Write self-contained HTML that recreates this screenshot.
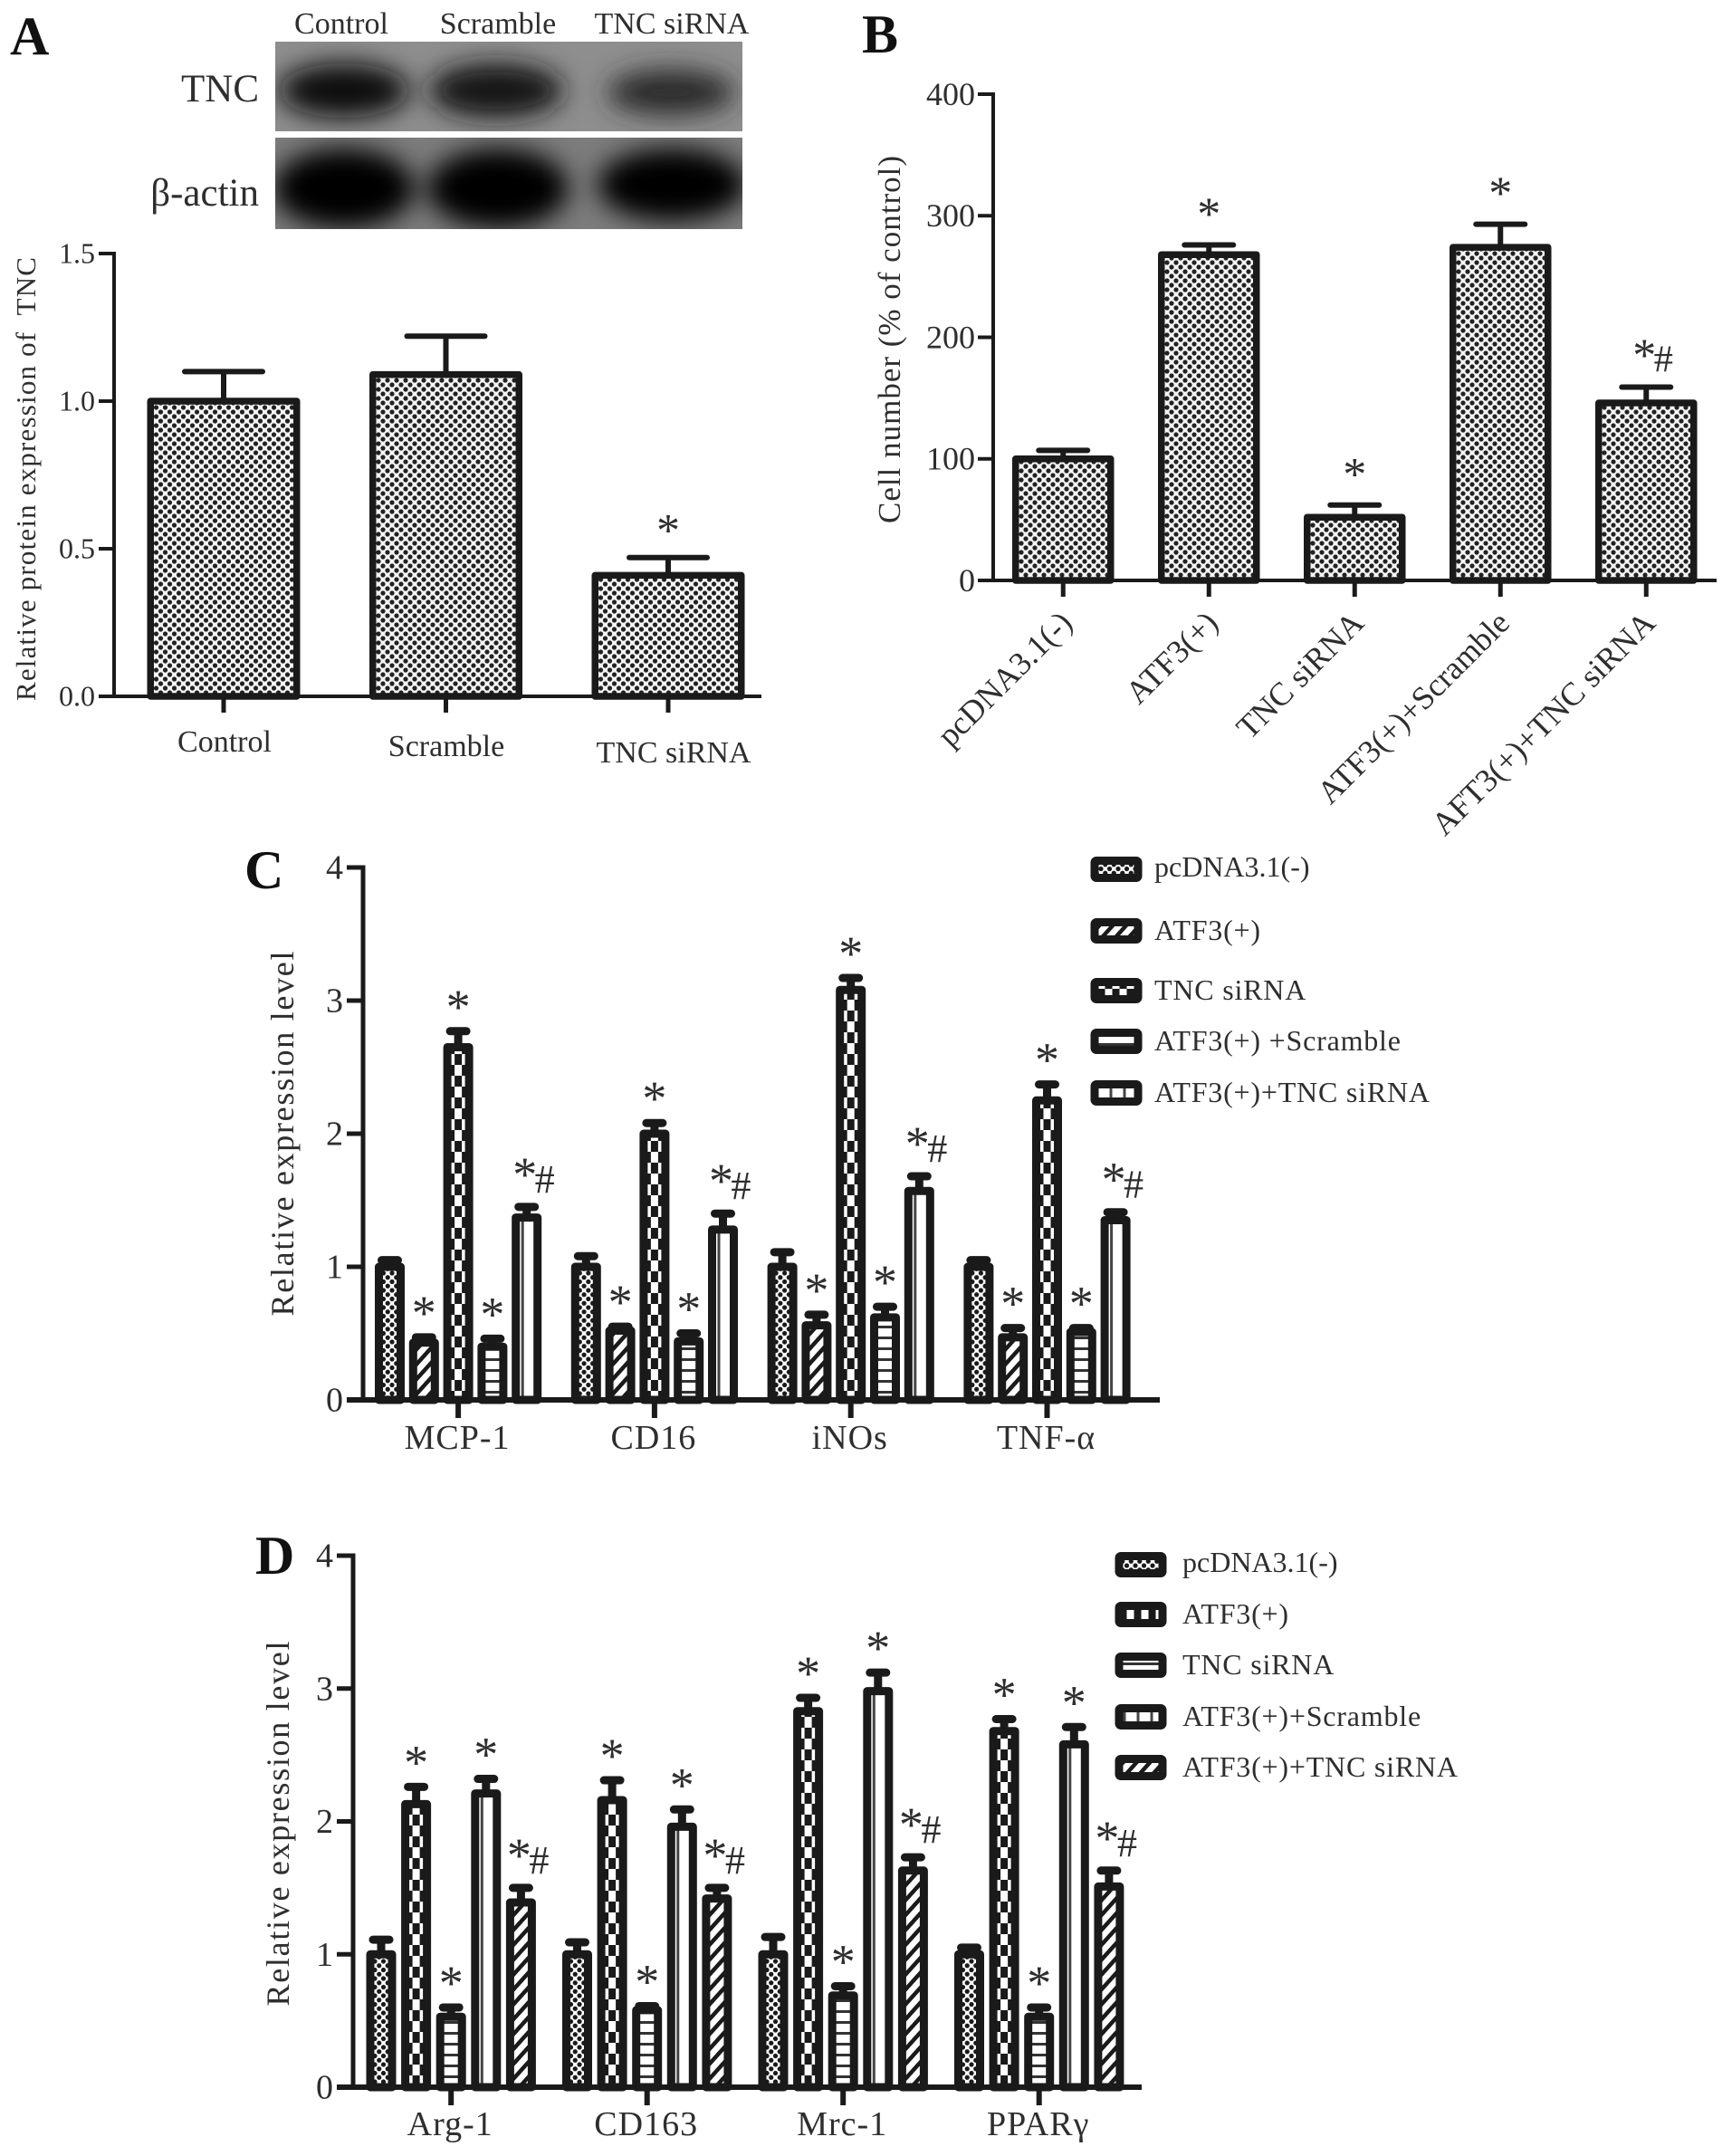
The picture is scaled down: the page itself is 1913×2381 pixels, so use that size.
<!DOCTYPE html>
<html lang="en">
<head>
<meta charset="utf-8">
<title>TNC expression and macrophage marker charts</title>
<style>
  html, body { margin: 0; padding: 0; background: #fff; }
  #figure { display: block; width: 1913px; height: 2381px; background: #fff; }
  text { font-family: "Liberation Serif", "DejaVu Serif", serif; fill: #2e2e2e; white-space: pre; }
  .letter { font-weight: bold; font-size: 60px; fill: #111; }
</style>
</head>
<body>
<svg id="figure" xmlns="http://www.w3.org/2000/svg" width="1913" height="2381" viewBox="0 0 1913 2381">
  <defs>
    <pattern id="pat-fine" patternUnits="userSpaceOnUse" width="10" height="10">
      <rect width="10" height="10" fill="#f4f4f4"/>
      <circle cx="0" cy="0" r="2.6" fill="#222"/><circle cx="10" cy="0" r="2.6" fill="#222"/>
      <circle cx="0" cy="10" r="2.6" fill="#222"/><circle cx="10" cy="10" r="2.6" fill="#222"/>
      <circle cx="5" cy="5" r="2.6" fill="#222"/>
    </pattern>
    <pattern id="pat-dots" patternUnits="userSpaceOnUse" width="9.5" height="9.5">
      <rect width="9.5" height="9.5" fill="#fff"/>
      <circle cx="0" cy="0" r="2.6" fill="#1a1a1a"/><circle cx="9.5" cy="0" r="2.6" fill="#1a1a1a"/>
      <circle cx="0" cy="9.5" r="2.6" fill="#1a1a1a"/><circle cx="9.5" cy="9.5" r="2.6" fill="#1a1a1a"/>
      <circle cx="4.75" cy="4.75" r="2.6" fill="#1a1a1a"/>
    </pattern>
    <pattern id="pat-hatch" patternUnits="userSpaceOnUse" width="11" height="11" patternTransform="rotate(-48)">
      <rect width="11" height="11" fill="#fff"/>
      <rect width="11" height="4.5" fill="#1a1a1a"/>
    </pattern>
    <pattern id="pat-checker" patternUnits="userSpaceOnUse" x="4.5" width="16" height="24">
      <rect width="16" height="24" fill="#fff"/>
      <rect x="0" y="0" width="8" height="12" fill="#1a1a1a"/>
      <rect x="8" y="12" width="8" height="12" fill="#1a1a1a"/>
    </pattern>
    <pattern id="pat-hstripe" patternUnits="userSpaceOnUse" width="12" height="12">
      <rect width="12" height="12" fill="#fff"/>
      <rect y="0" width="12" height="3" fill="#333"/>
    </pattern>
    <pattern id="pat-vstripe" patternUnits="userSpaceOnUse" x="4.5" width="15" height="12">
      <rect width="15" height="12" fill="#fff"/>
      <rect x="6" width="3" height="12" fill="#444"/>
    </pattern>
    <filter id="band-blur" x="-40%" y="-60%" width="180%" height="220%"><feGaussianBlur stdDeviation="14"/></filter>
    <clipPath id="blot-clip-1"><rect x="304" y="46" width="516" height="99"/></clipPath>
    <clipPath id="blot-clip-2"><rect x="304" y="152" width="516" height="101"/></clipPath>
  </defs>

  <g>
    <text class="letter" x="11" y="60">A</text>
    <text x="377" y="37" font-size="34" text-anchor="middle">Control</text>
    <text x="550" y="37" font-size="34" text-anchor="middle">Scramble</text>
    <text x="742" y="37" font-size="34" text-anchor="middle">TNC siRNA</text>
    <text x="286" y="112" font-size="43" text-anchor="end">TNC</text>
    <text x="286" y="227" font-size="43" text-anchor="end">β-actin</text>
    <g clip-path="url(#blot-clip-1)">
      <rect x="304" y="46" width="516" height="99" fill="#8e8e8e"/>
      <g filter="url(#band-blur)">
        <ellipse cx="380" cy="100" rx="72" ry="30" fill="#101010"/>
        <ellipse cx="548" cy="100" rx="74" ry="30" fill="#161616"/>
        <ellipse cx="741" cy="102" rx="70" ry="25" fill="#2a2a2a"/>
      </g>
    </g>
    <g clip-path="url(#blot-clip-2)">
      <rect x="304" y="152" width="516" height="101" fill="#7c7c7c"/>
      <g filter="url(#band-blur)">
        <ellipse cx="380" cy="208" rx="78" ry="44" fill="#000"/>
        <ellipse cx="550" cy="208" rx="78" ry="44" fill="#000"/>
        <ellipse cx="742" cy="204" rx="82" ry="40" fill="#000"/>
      </g>
    </g>
    <g id="chart-a"></g>
  </g>
  <g>
    <text class="letter" x="952" y="58">B</text>
    <g id="chart-b"></g>
  </g>
  <g>
    <text class="letter" x="270" y="981">C</text>
    <g id="chart-c"></g>
  </g>
  <g>
    <text class="letter" x="282" y="1738">D</text>
    <g id="chart-d"></g>
  </g>
</svg>

<script>
// ---------- Panel A data ----------
const aCategories = ['Control', 'Scramble', 'TNC siRNA'];
const aValues = [1.0, 1.09, 0.41];
const aErrorTops = [1.10, 1.22, 0.47];
const aMarks = ['', '', '*'];
const aTicks = ['0.0', '0.5', '1.0', '1.5'];

// ---------- Panel B data ----------
const bCategories = ['pcDNA3.1(-)', 'ATF3(+)', 'TNC siRNA', 'ATF3(+)+Scramble', 'AFT3(+)+TNC siRNA'];
const bValues = [100, 268, 52, 274, 146];
const bErrorTops = [107, 276, 62, 293, 159];
const bMarks = ['', '*', '*', '*', '*#'];
const bTicks = ['0', '100', '200', '300', '400'];

// ---------- Panel C data ----------
const cCategories = ['MCP-1', 'CD16', 'iNOs', 'TNF-α'];
const cSeriesNames = ['pcDNA3.1(-)', 'ATF3(+)', 'TNC siRNA', 'ATF3(+) +Scramble', 'ATF3(+)+TNC siRNA'];
const cPcdna = [1.0, 1.0, 1.0, 1.0];
const cAtf3 = [0.43, 0.52, 0.56, 0.47];
const cTnc = [2.65, 2.0, 3.08, 2.25];
const cScramble = [0.40, 0.44, 0.62, 0.51];
const cCombo = [1.37, 1.28, 1.57, 1.35];
const cPcdnaErr = [1.05, 1.08, 1.11, 1.05];
const cAtf3Err = [0.47, 0.55, 0.64, 0.54];
const cTncErr = [2.77, 2.08, 3.17, 2.37];
const cScrambleErr = [0.46, 0.50, 0.70, 0.54];
const cComboErr = [1.45, 1.40, 1.68, 1.41];
const cSeriesMarks = ['', '*', '*', '*', '*#'];
const cTicks = ['0', '1', '2', '3', '4'];

// ---------- Panel D data ----------
const dCategories = ['Arg-1', 'CD163', 'Mrc-1', 'PPARγ'];
const dSeriesNames = ['pcDNA3.1(-)', 'ATF3(+)', 'TNC siRNA', 'ATF3(+)+Scramble', 'ATF3(+)+TNC siRNA'];
const dPcdna = [1.0, 1.0, 1.0, 1.0];
const dAtf3 = [2.13, 2.16, 2.83, 2.68];
const dTnc = [0.53, 0.58, 0.69, 0.53];
const dScramble = [2.21, 1.96, 2.98, 2.58];
const dCombo = [1.39, 1.42, 1.63, 1.51];
const dPcdnaErr = [1.11, 1.09, 1.13, 1.05];
const dAtf3Err = [2.26, 2.31, 2.93, 2.77];
const dTncErr = [0.60, 0.61, 0.76, 0.60];
const dScrambleErr = [2.32, 2.09, 3.12, 2.71];
const dComboErr = [1.50, 1.50, 1.73, 1.63];
const dSeriesMarks = ['', '*', '*', '*', '*#'];
const dTicks = ['0', '1', '2', '3', '4'];

// ---------- Helpers ----------
const SVG_NS = 'http://www.w3.org/2000/svg';
const INK = '#1a1a1a';

function make(tag, attrs, parent) {
  const node = document.createElementNS(SVG_NS, tag);
  for (const key in attrs) node.setAttribute(key, attrs[key]);
  parent.appendChild(node);
  return node;
}

function linearY(max, zeroY, topY) {
  return function (v) { return zeroY - (v / max) * (zeroY - topY); };
}

function drawYAxis(root, g) {
  const axis = make('line', { x1: g.axisX, x2: g.axisX, y1: g.topY - g.axisW / 2, y2: g.zeroY, stroke: INK, 'stroke-width': g.axisW }, root);
  
  
  g.ticks.forEach(function (label) {
    const y = g.y(parseFloat(label));
    const tick = make('line', { x1: g.axisX - g.tickLen, x2: g.axisX, y1: y, y2: y, stroke: INK, 'stroke-width': g.axisW }, root);
    
    
    const text = make('text', { x: g.axisX - g.tickLen - g.tickGap, y: y + g.tickFont * 0.33, 'font-size': g.tickFont, 'text-anchor': 'end' }, root);
    text.textContent = label;
    
    
  });
}

function drawBaseline(root, g) {
  const base = make('line', { x1: g.axisX - g.tickLen, x2: g.axisEnd, y1: g.zeroY, y2: g.zeroY, stroke: INK, 'stroke-width': g.baseW }, root);
  
  
}

function drawXTick(root, g, x) {
  const tick = make('line', { x1: x, x2: x, y1: g.zeroY, y2: g.zeroY + g.xTickLen, stroke: INK, 'stroke-width': g.axisW + 1 }, root);
  
  
}

function drawYTitle(root, label, x, yCenter, font, length) {
  const t = make('text', { transform: 'translate(' + x + ',' + yCenter + ') rotate(-90)', 'font-size': font, 'text-anchor': 'middle', textLength: length, lengthAdjust: 'spacing' }, root);
  t.textContent = label;
  
  
}

function drawBar(root, g, left, value, errTop, mark, fill) {
  const group = make('g', { transform: 'translate(' + left + ',0)' }, root);
  
  
  const sw = g.barStroke;
  const cx = g.barW / 2;
  const topY = g.y(value);
  const errY = g.y(errTop);
  const stem = make('line', { x1: cx, x2: cx, y1: topY, y2: errY, stroke: INK, 'stroke-width': g.errW }, group);
  
  
  const cap = make('line', { x1: cx - g.capW / 2, x2: cx + g.capW / 2, y1: errY, y2: errY, stroke: INK, 'stroke-width': g.errW, 'stroke-linecap': 'round' }, group);
  
  
  const bar = make('rect', { x: sw / 2, y: topY, width: g.barW - sw, height: g.zeroY - topY, fill: 'url(#' + fill + ')', stroke: INK, 'stroke-width': sw, 'stroke-linejoin': 'round' }, group);
  
  
  if (mark) {
    const both = mark.length > 1;
    const base = errY + (both ? g.markOffsetBoth : g.markOffset);
    const t = make('text', { x: both ? cx - 2 : cx, y: base, 'text-anchor': 'middle', 'font-size': g.markFont, fill: '#1c1c1c' }, group);
    
    
    const star = make('tspan', { y: both ? base - g.starLift : base }, t);
    star.textContent = '*';
    if (both) {
      const hash = make('tspan', { y: base - 3, 'font-size': g.markFont * 0.82, dx: -5 }, t);
      hash.textContent = '#';
    }
  }
}

function drawSimpleChart(root, g, cats, values, errs, marks) {
  drawYAxis(root, g);
  cats.forEach(function (cat, i) {
    const left = g.firstLeft + i * g.step;
    drawBar(root, g, left, values[i], errs[i], marks[i], 'pat-fine');
    drawXTick(root, g, left + g.barW / 2);
  });
  drawBaseline(root, g);
}

function drawGroupedChart(root, g, cats, series, errs, marks, fills) {
  drawYAxis(root, g);
  cats.forEach(function (cat, c) {
    const gLeft = g.firstLeft + c * g.groupStep;
    series.forEach(function (vals, s) {
      drawBar(root, g, gLeft + s * g.step, vals[c], errs[s][c], marks[s], fills[s]);
    });
    const tx = gLeft + 2 * g.step + g.barW / 2;
    drawXTick(root, g, tx);
    const label = make('text', { x: tx - 1, y: g.catBaseline, 'font-size': g.catFont, 'text-anchor': 'middle', 'letter-spacing': 1 }, root);
    label.textContent = cat;
    
    
  });
  drawBaseline(root, g);
}

function drawLegend(root, names, fills, rows, swatchX, swatchW, textX) {
  names.forEach(function (name, i) {
    const swatch = make('rect', { x: swatchX + 5, y: rows[i] - 9.5, width: swatchW - 10, height: 19, fill: 'url(#' + fills[i] + ')', stroke: INK, 'stroke-width': 9, rx: 2 }, root);
    
    
    const label = make('text', { x: textX, y: rows[i] + 10 - (i === 0 ? 2 : 0), 'font-size': 32, 'letter-spacing': i === 0 ? 0 : 0.8 }, root);
    label.textContent = name;
    
    
  });
}

// ---------- Panel A ----------
(function () {
  const root = document.getElementById('chart-a');
  const g = { axisX: 126, zeroY: 769, topY: 280, axisEnd: 841, axisW: 4, baseW: 4, tickLen: 17, tickGap: 4, tickFont: 32,
    xTickLen: 18, ticks: aTicks, firstLeft: 162.5, step: 245.5, barW: 169, barStroke: 7.5, errW: 6, capW: 86,
    markFont: 52, markOffset: -13, markOffsetBoth: -13, starLift: 6 };
  g.y = linearY(1.5, g.zeroY, g.topY);
  drawSimpleChart(root, g, aCategories, aValues, aErrorTops, aMarks);
  drawYTitle(root, 'Relative protein expression of  TNC', 39, 529, 31, 490);
  const centers = { 0: [248, 830], 1: [493, 835], 2: [744, 842] };
  aCategories.forEach(function (cat, i) {
    const label = make('text', { x: centers[i][0], y: centers[i][1], 'font-size': 34, 'text-anchor': 'middle' }, root);
    label.textContent = cat;
    
    
  });
})();

// ---------- Panel B ----------
(function () {
  const root = document.getElementById('chart-b');
  const g = { axisX: 1097, zeroY: 641, topY: 104, axisEnd: 1896, axisW: 4, baseW: 4, tickLen: 17, tickGap: 3, tickFont: 36,
    xTickLen: 18, ticks: bTicks, firstLeft: 1118, step: 161, barW: 112.5, barStroke: 7.5, errW: 6, capW: 54,
    markFont: 52, markOffset: -17, markOffsetBoth: -14, starLift: 4 };
  g.y = linearY(400, g.zeroY, g.topY);
  drawSimpleChart(root, g, bCategories, bValues, bErrorTops, bMarks);
  drawYTitle(root, 'Cell number (% of control)', 994, 375, 35, 406);
  bCategories.forEach(function (cat, i) {
    const x = g.firstLeft + i * g.step + g.barW / 2 + 12;
    const label = make('text', { transform: 'translate(' + x + ',690) rotate(-45)', 'font-size': 36, 'text-anchor': 'end' }, root);
    label.textContent = cat;
    
    
  });
})();

// ---------- Panel C ----------
(function () {
  const root = document.getElementById('chart-c');
  const fills = ['pat-dots', 'pat-hatch', 'pat-checker', 'pat-hstripe', 'pat-vstripe'];
  const g = { axisX: 401, zeroY: 1546, topY: 958, axisEnd: 1281, axisW: 5, baseW: 6, tickLen: 18, tickGap: 4, tickFont: 38,
    xTickLen: 20, ticks: cTicks, firstLeft: 414, step: 37.8, groupStep: 216.8, barW: 33, barStroke: 9, errW: 9, capW: 18,
    markFont: 54, markOffset: -9, markOffsetBoth: -13, starLift: 5, catBaseline: 1600, catFont: 38 };
  g.y = linearY(4, g.zeroY, g.topY);
  drawGroupedChart(root, g, cCategories, [cPcdna, cAtf3, cTnc, cScramble, cCombo],
    [cPcdnaErr, cAtf3Err, cTncErr, cScrambleErr, cComboErr], cSeriesMarks, fills);
  drawYTitle(root, 'Relative expression level', 324, 1252, 36, 403);
  drawLegend(root, cSeriesNames, fills, [960, 1028, 1094, 1150, 1207], 1204, 58, 1275);
})();

// ---------- Panel D ----------
(function () {
  const root = document.getElementById('chart-d');
  const fills = ['pat-dots', 'pat-checker', 'pat-hstripe', 'pat-vstripe', 'pat-hatch'];
  const g = { axisX: 390, zeroY: 2305, topY: 1718, axisEnd: 1261, axisW: 5, baseW: 6, tickLen: 18, tickGap: 4, tickFont: 38,
    xTickLen: 20, ticks: dTicks, firstLeft: 404.5, step: 38.6, groupStep: 216.5, barW: 33, barStroke: 9, errW: 9, capW: 18,
    markFont: 54, markOffset: -9, markOffsetBoth: -13, starLift: 5, catBaseline: 2358, catFont: 38 };
  g.y = linearY(4, g.zeroY, g.topY);
  drawGroupedChart(root, g, dCategories, [dPcdna, dAtf3, dTnc, dScramble, dCombo],
    [dPcdnaErr, dAtf3Err, dTncErr, dScrambleErr, dComboErr], dSeriesMarks, fills);
  drawYTitle(root, 'Relative expression level', 319, 2014, 36, 403);
  drawLegend(root, dSeriesNames, fills, [1728, 1783, 1839, 1896, 1952], 1231, 58, 1306);
})();
</script>
</body>
</html>
